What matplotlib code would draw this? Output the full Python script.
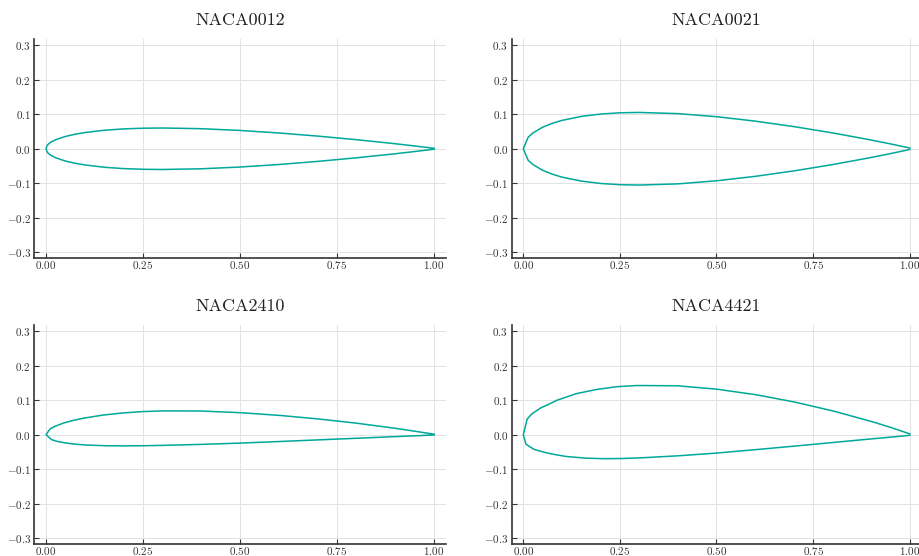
import numpy as np
import matplotlib
matplotlib.use("Agg")
import matplotlib.pyplot as plt
from matplotlib.ticker import FuncFormatter

plt.rcParams['mathtext.fontset'] = 'cm'
plt.rcParams['font.family'] = ['cmr10', 'DejaVu Serif']
plt.rcParams['axes.unicode_minus'] = True

# ---- data ----
titles = ["NACA0012", "NACA0021", "NACA2410", "NACA4421"]

x0012 = [0, 0.0025, 0.005, 0.0075, 0.0125, 0.025, 0.05, 0.075, 0.1, 0.15, 0.2,
         0.25, 0.3, 0.4, 0.5, 0.6, 0.7, 0.8, 0.9, 0.95, 1.0]
yt0012 = [0, 0.0087, 0.0122, 0.0148, 0.0189, 0.0262, 0.0356, 0.0420, 0.0468, 0.0535,
          0.0574, 0.0594, 0.0600, 0.0580, 0.0529, 0.0456, 0.0366, 0.0262, 0.0145,
          0.0081, 0.0013]

x0021 = [0, 0.0125, 0.025, 0.05, 0.075, 0.1, 0.15, 0.2, 0.25, 0.3, 0.4, 0.5,
         0.6, 0.7, 0.8, 0.9, 0.95, 1.0]
yt0021 = [0, 0.0332, 0.0458, 0.0622, 0.0735, 0.0820, 0.0935, 0.1004, 0.1040, 0.1050,
          0.1016, 0.0927, 0.0799, 0.0641, 0.0459, 0.0253, 0.0141, 0.0022]

xu2410 = [0, 0.011, 0.023, 0.047, 0.072, 0.097, 0.147, 0.198, 0.248, 0.299, 0.4,
          0.5, 0.601, 0.701, 0.801, 0.901, 0.95, 1.0]
yu2410 = [0, 0.0169, 0.0241, 0.0342, 0.0417, 0.0477, 0.0567, 0.0628, 0.0667, 0.0688,
          0.0684, 0.0636, 0.0558, 0.0455, 0.0330, 0.0182, 0.0099, 0.0011]
xl2410 = [0, 0.014, 0.027, 0.053, 0.078, 0.103, 0.153, 0.202, 0.252, 0.301, 0.4,
          0.5, 0.599, 0.699, 0.799, 0.899, 0.95, 1.0]
yl2410 = [0, -0.0145, -0.0193, -0.0248, -0.0281, -0.0302, -0.0323, -0.0328, -0.0323,
          -0.0313, -0.0284, -0.0247, -0.0202, -0.0155, -0.0107, -0.0059, -0.0035, -0.0011]

xu4421 = [0, 0.010, 0.022, 0.046, 0.064, 0.088, 0.138, 0.190, 0.242, 0.295, 0.4,
          0.502, 0.604, 0.704, 0.804, 0.903, 0.952, 1.0]
yu4421 = [0, 0.045, 0.060, 0.078, 0.087, 0.100, 0.119, 0.131, 0.139, 0.1424, 0.1416,
          0.1316, 0.1154, 0.0940, 0.0679, 0.0374, 0.0204, 0.0022]
xl4421 = [0, 0.007, 0.028, 0.060, 0.087, 0.112, 0.162, 0.210, 0.258, 0.305, 0.4,
          0.498, 0.596, 0.696, 0.796, 0.897, 0.948, 1.0]
yl4421 = [0, -0.028, -0.043, -0.053, -0.059, -0.0636, -0.0684, -0.0699, -0.0693,
          -0.0674, -0.0616, -0.0538, -0.0442, -0.0340, -0.0235, -0.0129, -0.0076, -0.0022]

xticks = [0.0, 0.25, 0.5, 0.75, 1.0]
yticks = [-0.3, -0.2, -0.1, 0.0, 0.1, 0.2, 0.3]

def contour(xu, yu, xl, yl):
    xs = np.concatenate([np.array(xu)[::-1], np.array(xl)[1:]])
    ys = np.concatenate([np.array(yu)[::-1], np.array(yl)[1:]])
    return xs, ys

shapes = [
    contour(x0012, yt0012, x0012, [-v for v in yt0012]),
    contour(x0021, yt0021, x0021, [-v for v in yt0021]),
    contour(xu2410, yu2410, xl2410, yl2410),
    contour(xu4421, yu4421, xl4421, yl4421),
]

W, H = 919, 556
fig = plt.figure(figsize=(W / 100, H / 100), dpi=100)

# pixel boxes (left, top, right, bottom)
boxes = [
    (34.4, 38.8, 445.6, 258.0),
    (511.7, 38.8, 921.3, 258.0),
    (34.4, 325.0, 445.6, 543.5),
    (511.7, 325.0, 921.3, 543.5),
]

color = '#00a89a'
xfmt = FuncFormatter(lambda v, p: r'$%.2f$' % v)
yfmt = FuncFormatter(lambda v, p: r'$%.1f$' % v)

for (l, t, r, b), (xs, ys), title in zip(boxes, shapes, titles):
    ax = fig.add_axes([l / W, 1 - b / H, (r - l) / W, (b - t) / H])
    ax.plot(xs, ys, color=color, lw=1.1, solid_joinstyle='round')
    ax.set_xlim(-0.03, 1.03)
    ax.set_ylim(-0.316, 0.318)
    ax.set_xticks(xticks)
    ax.set_yticks(yticks)
    ax.xaxis.set_major_formatter(xfmt)
    ax.yaxis.set_major_formatter(yfmt)
    ax.grid(True, color='#e2e2e2', lw=0.7)
    ax.set_axisbelow(True)
    for s in ['top', 'right']:
        ax.spines[s].set_visible(False)
    for s in ['left', 'bottom']:
        ax.spines[s].set_color('#333333')
        ax.spines[s].set_linewidth(1.2)
    ax.tick_params(direction='in', length=3.5, width=0.8, color='#333333',
                   labelsize=8.0, labelcolor='#333333')
    ax.tick_params(axis='x', pad=1.0)
    ax.tick_params(axis='y', pad=2.5)
    ax.set_title(title, fontsize=13, family='cmr10', color='#222222', pad=10)

fig.savefig('out.png', dpi=100)
